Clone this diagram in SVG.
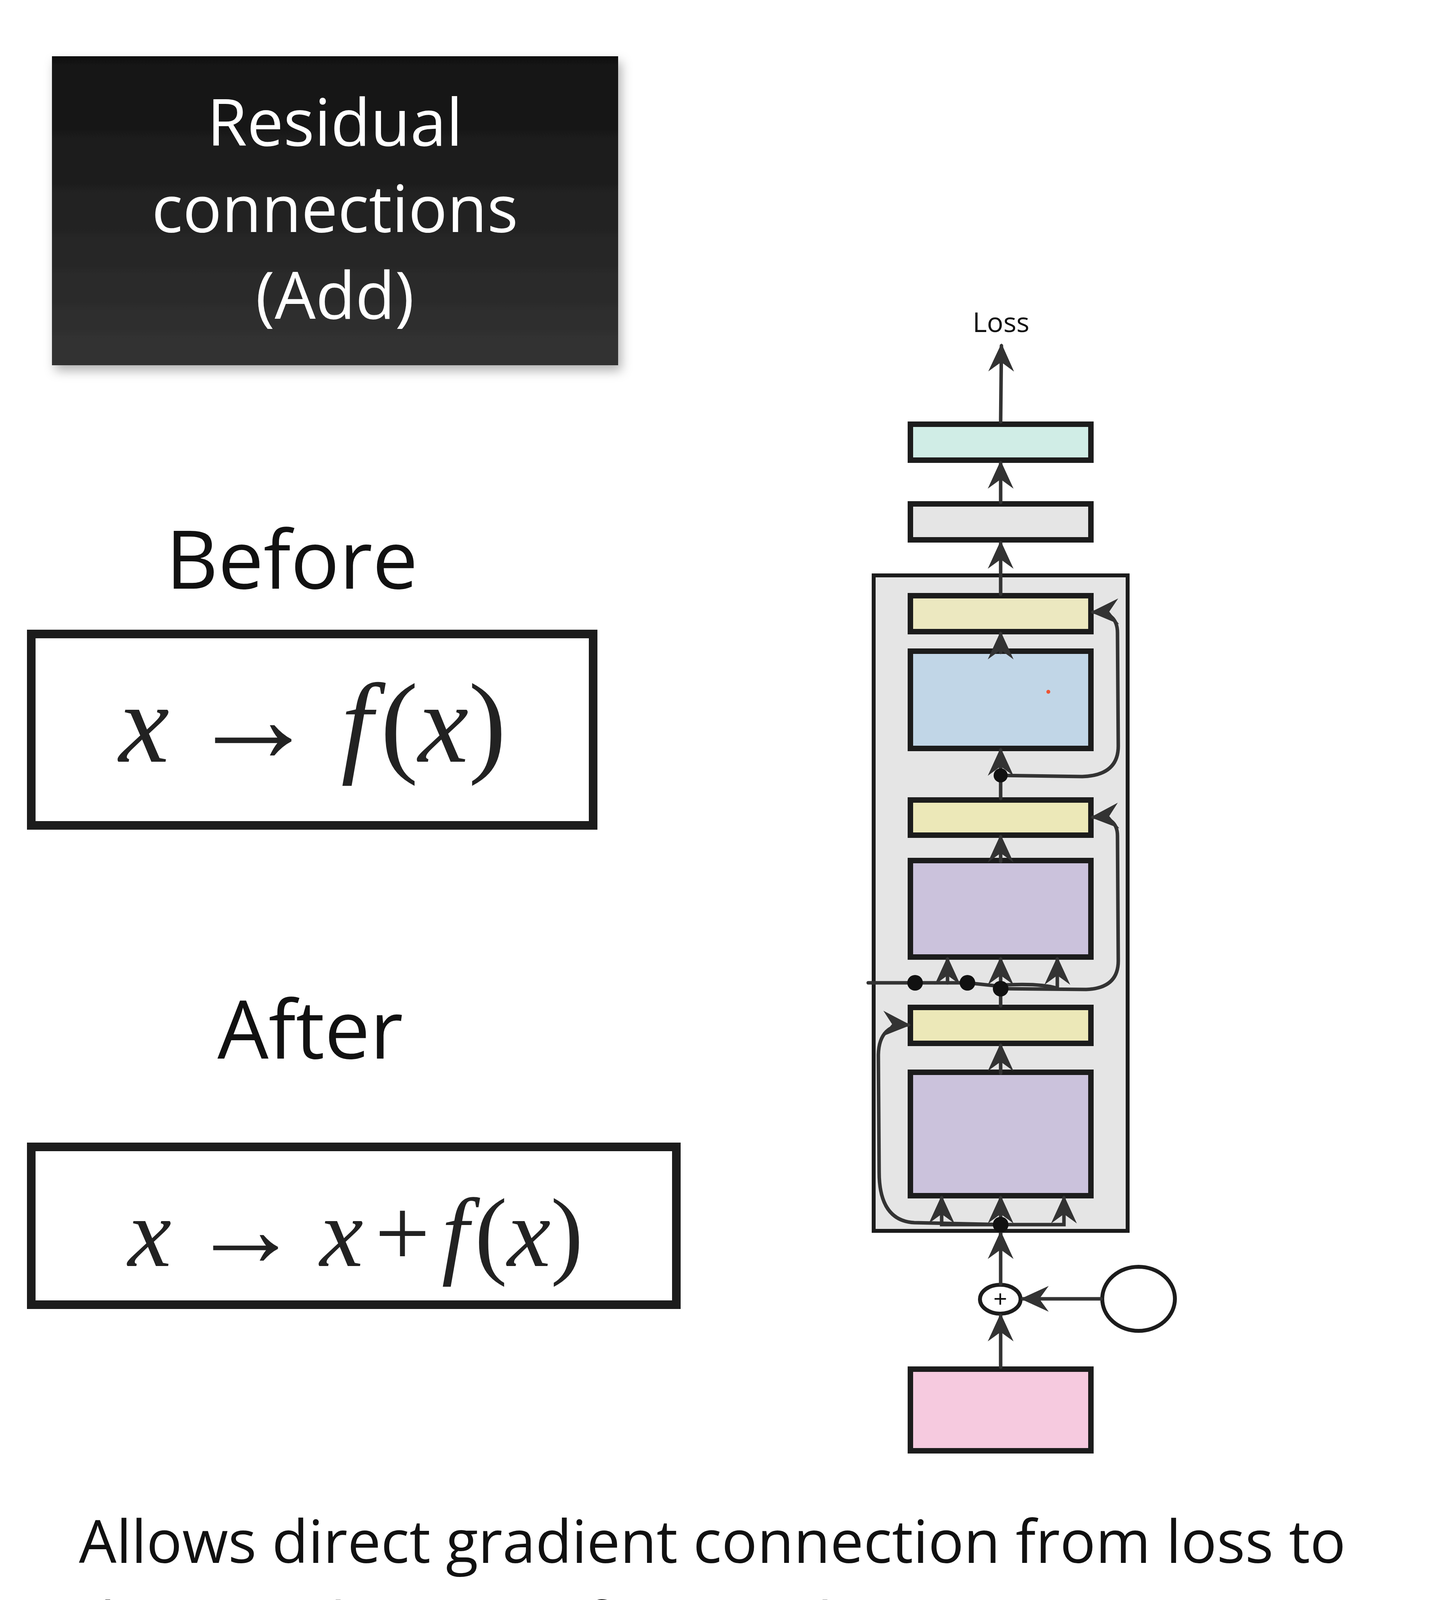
<svg xmlns="http://www.w3.org/2000/svg" width="3688" height="4337" viewBox="0 0 3688 4337">
<defs>
<linearGradient id="tg" x1="0" y1="0" x2="0" y2="1"><stop offset="0" stop-color="#111"/><stop offset="1" stop-color="#333"/></linearGradient>
<filter id="sh" x="-10%" y="-10%" width="130%" height="130%"><feDropShadow dx="8" dy="14" stdDeviation="14" flood-color="#000" flood-opacity="0.3"/></filter>
<marker id="ah" viewBox="0 0 12 12" refX="11" refY="6" markerWidth="8" markerHeight="8" markerUnits="strokeWidth" orient="auto"><path d="M0,0.5 L12,6 L0,11.5 L4,6 z" fill="#333"/></marker>
<style>
.b{stroke:#1c1c1c;stroke-width:14}
.c{fill:none;stroke:#333;stroke-width:9;stroke-linecap:round;marker-end:url(#ah)}
.r{fill:none;stroke:#333;stroke-width:9;stroke-linecap:round}
.t{font-family:"Open Sans","Liberation Sans",sans-serif;fill:#111}
.m{font-family:"Liberation Serif",serif;font-style:italic;fill:#222}
</style>
</defs>
<rect width="3688" height="4337" fill="#fff"/>
<g id="title"><rect x="133" y="144" width="1449" height="791" fill="url(#tg)" filter="url(#sh)"/>
<text class="t" x="857" y="373" font-size="166" text-anchor="middle" style="fill:#fff">Residual</text>
<text class="t" x="857" y="594" font-size="166" text-anchor="middle" style="fill:#fff">connections</text>
<text class="t" x="857" y="816" font-size="166" text-anchor="middle" style="fill:#fff">(Add)</text></g>
<g id="before"><text class="t" x="747" y="1507" font-size="207" text-anchor="middle">Before</text>
<rect x="80" y="1623" width="1438" height="490" fill="#fff" stroke="#1c1c1c" stroke-width="22"/>
<text class="m" x="800" y="1950" font-size="290" text-anchor="middle"><tspan>x</tspan><tspan font-style="normal" dx="50" font-size="330">→</tspan><tspan dx="60">f</tspan><tspan font-style="normal" dx="20">(</tspan>x<tspan font-style="normal">)</tspan></text></g>
<g id="after"><text class="t" x="794" y="2710" font-size="207" text-anchor="middle">After</text>
<rect x="80" y="2936" width="1651" height="404" fill="#fff" stroke="#1c1c1c" stroke-width="22"/>
<text class="m" x="910" y="3241" font-size="250" text-anchor="middle"><tspan>x</tspan><tspan font-style="normal" dx="50" font-size="280">→</tspan><tspan dx="50">x</tspan><tspan font-style="normal" dx="30">+</tspan><tspan dx="30">f</tspan><tspan font-style="normal" dx="15">(</tspan>x<tspan font-style="normal">)</tspan></text></g>
<g id="caption"><text class="t" x="202" y="4001" font-size="152">Allows direct gradient connection from loss to</text>
<text class="t" x="202" y="4211" font-size="152">deep/early parts of network. Better training</text></g>
<g id="loss"><text class="t" x="2562" y="850" font-size="70" text-anchor="middle">Loss</text></g>
<g id="container"><rect x="2236" y="1473" width="650" height="1678" fill="#e5e5e5" stroke="#1c1c1c" stroke-width="10"/></g>
<g id="teal"><rect class="b" x="2330" y="1086" width="462" height="92" fill="#d0ede6"/></g>
<g id="gray"><rect class="b" x="2330" y="1290" width="462" height="92" fill="#e5e5e5"/></g>
<g id="yellow1"><rect class="b" x="2330" y="1525" width="462" height="92" fill="#ece8c0"/></g>
<g id="blue"><rect class="b" x="2330" y="1667" width="462" height="249" fill="#c1d6e7"/><circle cx="2683" cy="1771" r="5" fill="#e53"/></g>
<g id="yellow2"><rect class="b" x="2330" y="2048" width="462" height="90" fill="#ece8b8"/></g>
<g id="purple1"><rect class="b" x="2330" y="2203" width="462" height="247" fill="#cbc2dc"/></g>
<g id="yellow3"><rect class="b" x="2330" y="2579" width="462" height="92" fill="#ece8b8"/></g>
<g id="purple2"><rect class="b" x="2330" y="2745" width="462" height="316" fill="#cbc2dc"/></g>
<g id="pink"><rect class="b" x="2330" y="3505" width="462" height="209" fill="#f6cadf"/></g>
<g id="plus"><ellipse cx="2560" cy="3326" rx="52" ry="37" fill="#fff" stroke="#1c1c1c" stroke-width="10"/><text x="2560" y="3345" font-family="Liberation Sans,sans-serif" font-size="60" text-anchor="middle" fill="#111">+</text></g>
<g id="pos"><ellipse cx="2914" cy="3325" rx="93" ry="82" fill="#fff" stroke="#1c1c1c" stroke-width="10"/></g>
<g id="connectors">
<path class="c" d="M2561,1080 L2563,885"/>
<path class="c" d="M2561,1286 L2561,1185"/>
<path class="c" d="M2561,1521 L2561,1390"/>
<path class="c" d="M2561,1670 L2561,1622"/>
<path class="c" d="M2561,2044 L2561,1920"/>
<path class="c" d="M2561,1985 L2770,1988 Q2862,1985 2862,1910 L2860,1620 Q2860,1565 2797,1567"/>
<path class="c" d="M2561,2205 L2561,2142"/>
<path class="r" d="M2222,2516 L2476,2516 L2560,2525"/>
<path class="c" d="M2425,2516 L2425,2455"/>
<path class="c" d="M2561,2575 L2561,2455"/>
<path class="c" d="M2561,2522 Q2660,2516 2706,2530 L2706,2455"/>
<path class="c" d="M2561,2531 L2780,2533 Q2862,2530 2862,2460 L2860,2140 Q2860,2088 2797,2092"/>
<path class="c" d="M2561,2747 L2561,2676"/>
<path class="c" d="M2561,3135 L2410,3135 L2410,3066"/>
<path class="c" d="M2561,3160 L2561,3066"/>
<path class="c" d="M2561,3135 L2723,3135 L2723,3066"/>
<path class="c" d="M2561,3135 L2340,3130 Q2250,3125 2250,3000 L2248,2700 Q2250,2620 2325,2624"/>
<path class="c" d="M2561,3287 L2561,3157"/>
<path class="c" d="M2561,3500 L2561,3368"/>
<path class="c" d="M2818,3325 L2618,3325"/>
<circle cx="2561" cy="1985" r="18" fill="#111"/>
<circle cx="2342" cy="2516" r="20" fill="#111"/>
<circle cx="2476" cy="2516" r="20" fill="#111"/>
<circle cx="2561" cy="2531" r="20" fill="#111"/>
<circle cx="2561" cy="3135" r="20" fill="#111"/>
</g>
</svg>
